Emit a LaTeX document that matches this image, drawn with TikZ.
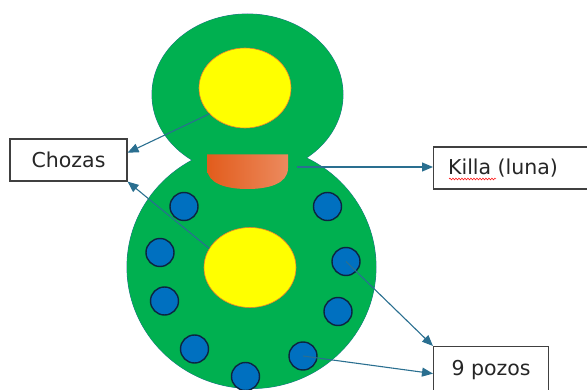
\documentclass[tikz,border=0pt]{standalone}
\usepackage{fontspec}
\setmainfont{DejaVu Sans}
\usetikzlibrary{shapes.geometric,arrows.meta,decorations.pathmorphing}
\definecolor{grn}{HTML}{00B050}
\definecolor{grnline}{HTML}{2F6F96}
\definecolor{yel}{HTML}{FFFF00}
\definecolor{yelline}{HTML}{ED7D31}
\definecolor{blu}{HTML}{0070C0}
\definecolor{bluline}{HTML}{0D2440}
\definecolor{arr}{HTML}{2A6F90}
\definecolor{boxline}{HTML}{404040}
\definecolor{txt}{HTML}{262626}
\definecolor{orL}{HTML}{E25C1C}
\definecolor{orR}{HTML}{EC8A5E}
\begin{document}
\begin{tikzpicture}[x=1pt,y=-1pt,
  yellowell/.style={ellipse,draw=yelline,line width=0.6pt,fill=yel,minimum width=92pt,minimum height=80pt,inner sep=0pt},
  well/.style={circle,draw=bluline,line width=1.4pt,fill=blu,minimum size=28pt,inner sep=0pt},
  labelbox/.style={rectangle,draw=boxline,line width=1.1pt,fill=white,text=txt,font=\fontsize{20.5}{24}\selectfont,inner sep=0pt},
  conn/.style={draw=arr,line width=1.1pt,-{Triangle[length=11pt,width=9pt]}}]
\useasboundingbox (0,0) rectangle (587,390);
\clip (0,0) rectangle (587,390);
% green body
\filldraw[fill=grn,draw=grnline,line width=0.8pt] (247.5,94.5) ellipse [x radius=95.5,y radius=80.5];
\filldraw[fill=grn,draw=grnline,line width=0.8pt] (251.5,267) ellipse [x radius=124.5,y radius=121.5];
\fill[grn] (247.5,94.5) ellipse [x radius=95.5,y radius=80.5];
\fill[grn] (251.5,267) ellipse [x radius=124.5,y radius=121.5];
% orange gate
\shade[left color=orL,right color=orR] (207,154.5) -- (288,154.5) -- (288,168)
  .. controls (288,184) and (268,189) .. (247.5,189)
  .. controls (227,189) and (207,184) .. (207,168) -- cycle;
% yellow
\node[yellowell] (ytop) at (245,88) {};
\node[yellowell] (ybot) at (250,267.5) {};
% wells
\node[well] (b1) at (184,206.5) {};
\node[well] (b2) at (327.5,206.5) {};
\node[well] (b3) at (160,252.5) {};
\node[well] (b4) at (346,261.5) {};
\node[well] (b5) at (164.5,301) {};
\node[well] (b6) at (338,311.5) {};
\node[well] (b7) at (194.5,349) {};
\node[well] (b8) at (303,356) {};
\node[well] (b9) at (245.5,376.5) {};
% boxes
\node[labelbox,minimum width=117pt,minimum height=42pt] (chozas) at (68.5,160) {Chozas};
\node[labelbox,minimum width=170pt,minimum height=42pt,anchor=west] (killa) at (433,168) {\hspace*{-31pt}Killa (luna)};
\node[labelbox,minimum width=115pt,minimum height=46pt,anchor=north west] (pozos) at (433,346) {\raisebox{1pt}{9 pozos}};
\coordinate (gate) at (297,167);
% wavy underline under Killa
\draw[red,line width=0.5pt,decorate,decoration={snake,amplitude=0.9pt,segment length=3pt}] (449,179) -- (496,179);
% connectors
\draw[conn] (ytop.216) -- (chozas.7);
\draw[conn] (ybot.155) -- (chozas.south east);
\draw[conn] (gate) -- (gate -| killa.west);
\draw[conn] (b4.center) -- (pozos.north west);
\draw[conn] (b8.center) -- (pozos.184);
\end{tikzpicture}
\end{document}
